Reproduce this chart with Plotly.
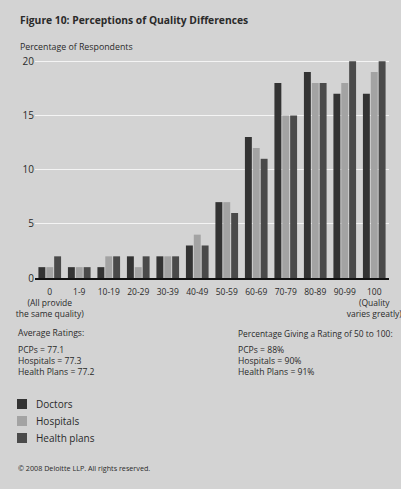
import plotly.graph_objects as go

# Rating bands shown on the x axis
categories = ["0", "1-9", "10-19", "20-29", "30-39", "40-49",
              "50-59", "60-69", "70-79", "80-89", "90-99", "100"]
tick_labels = ["0<br>(All provide<br>the same quality)", "1-9", "10-19", "20-29",
               "30-39", "40-49", "50-59", "60-69", "70-79", "80-89", "90-99",
               "100<br>(Quality<br>varies greatly)"]

# Percentage of respondents per band
doctors = [1, 1, 1, 2, 2, 3, 7, 13, 18, 19, 17, 17]
hospitals = [1, 1, 2, 1, 2, 4, 7, 12, 15, 18, 18, 19]
health_plans = [2, 1, 2, 2, 2, 3, 6, 11, 15, 18, 20, 20]

series_names = ["Doctors", "Hospitals", "Health plans"]
series_colors = ["#333333", "#a3a3a3", "#4a4a4a"]

y_ticks = [0, 5, 10, 15, 20]

FONT = "Open Sans, DejaVu Sans, sans-serif"
TEXT = "#2a2a2a"
BG = "#d3d3d3"

W, H = 401, 489
ML, MR, MT, MB = 35, 12, 58, 211
plot_w = W - ML - MR
plot_h = H - MT - MB


def px_x(x):
    return (x - ML) / plot_w


def px_y(y_from_top):
    return (H - y_from_top - MB) / plot_h


fig = go.Figure()
for name, vals, color in zip(series_names, [doctors, hospitals, health_plans], series_colors):
    fig.add_bar(x=categories, y=vals, name=name, marker_color=color,
                marker_line_width=0)

fig.update_layout(
    width=W, height=H,
    paper_bgcolor=BG, plot_bgcolor=BG,
    margin=dict(l=ML, r=MR, t=MT, b=MB, autoexpand=False),
    barmode="group", bargap=0.2, bargroupgap=0.12,
    font=dict(family=FONT, size=9, color=TEXT),
    showlegend=False,
    xaxis=dict(tickmode="array", tickvals=categories, ticktext=tick_labels,
               tickangle=0, automargin=False, ticklabelstandoff=5,
               showline=True, linecolor="#111111", linewidth=1.5,
               showgrid=False, ticks="", tickfont=dict(size=8.5, color=TEXT)),
    yaxis=dict(range=[0, 20.3], tickvals=y_ticks, showgrid=True, automargin=False,
               gridcolor="#f4f4f4", gridwidth=1, zeroline=False,
               showline=False, ticks="", tickfont=dict(size=10, color=TEXT)),
)

texts = [
    ("<b>Figure 10: Perceptions of Quality Differences</b>", 18, 20, 10.3),
    ("Percentage of Respondents", 18, 47, 8.8),
    ("Average Ratings:", 16, 333, 8.6),
    ("PCPs = 77.1<br>Hospitals = 77.3<br>Health Plans = 77.2", 16, 361, 8.6),
    ("Percentage Giving a Rating of 50 to 100:", 236, 333, 8.4),
    ("PCPs = 88%<br>Hospitals = 90%<br>Health Plans = 91%", 236, 361, 8.6),
    ("© 2008 Deloitte LLP. All rights reserved.", 16, 468, 7.2),
]
for text, x, y, size in texts:
    fig.add_annotation(text=text, x=px_x(x), y=px_y(y), xref="paper", yref="paper",
                       xanchor="left", yanchor="middle", showarrow=False,
                       align="left", font=dict(family=FONT, color=TEXT, size=size))

# Legend: swatches with labels, stacked below the notes
legend_rows = [404, 421, 438]
for name, color, row in zip(series_names, series_colors, legend_rows):
    fig.add_shape(type="rect", xref="paper", yref="paper",
                  x0=px_x(17), x1=px_x(27), y0=px_y(row + 5), y1=px_y(row - 5),
                  fillcolor=color, line_width=0)
    fig.add_annotation(text=name, x=px_x(34), y=px_y(row), xref="paper", yref="paper",
                       xanchor="left", yanchor="middle", showarrow=False,
                       font=dict(family=FONT, color=TEXT, size=10))

fig.write_html("out.html")
